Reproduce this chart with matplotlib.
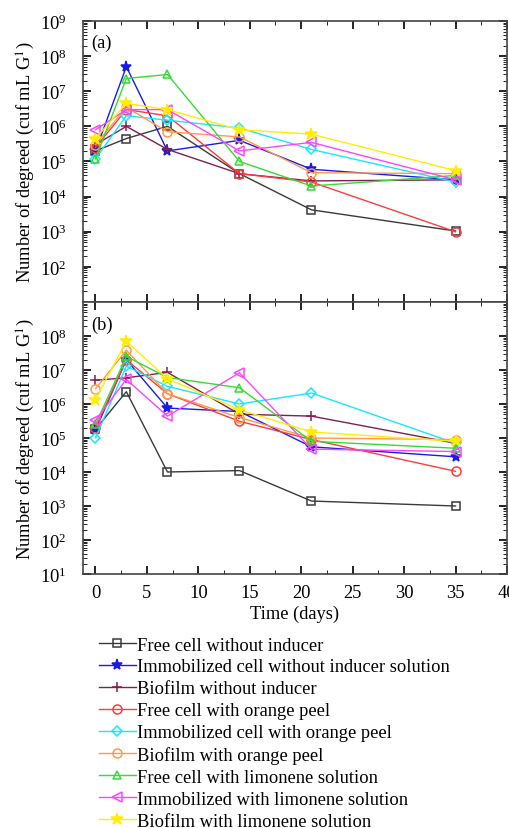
import numpy as np
import matplotlib
matplotlib.use('Agg')
import matplotlib.pyplot as plt
from matplotlib.ticker import LogLocator, MultipleLocator, NullFormatter

plt.rcParams['font.family'] = ['Liberation Serif', 'DejaVu Serif']
plt.rcParams['mathtext.fontset'] = 'stix'

FS = 13.3

# Zeitpunkte (Tage)
days = [0, 3, 7, 14, 21, 35]

labels = ['Free cell without inducer',
          'Immobilized cell without inducer solution',
          'Biofilm without inducer',
          'Free cell with orange peel',
          'Immobilized cell with orange peel',
          'Biofilm with orange peel',
          'Free cell with limonene solution',
          'Immobilized with limonene solution',
          'Biofilm with limonene solution']

# Panel (a)
a_free = [2.0e5, 4.5e5, 1.0e6, 4.5e4, 4.2e3, 1.05e3]
a_immob = [2.0e5, 5.0e7, 2.0e5, 4.0e5, 6.0e4, 3.0e4]
a_biofilm = [3.0e5, 1.0e6, 2.2e5, 4.5e4, 2.8e4, 3.0e4]
a_free_op = [2.5e5, 3.0e6, 2.0e6, 4.5e4, 2.6e4, 1.0e3]
a_immob_op = [1.2e5, 2.0e6, 1.5e6, 9.0e5, 2.2e5, 2.6e4]
a_bio_op = [3.0e5, 3.5e6, 7.0e5, 5.0e5, 4.8e4, 4.5e4]
a_free_lim = [1.2e5, 2.3e7, 3.0e7, 1.0e5, 2.0e4, 4.0e4]
a_immob_lim = [8.0e5, 3.0e6, 3.0e6, 2.0e5, 3.5e5, 3.0e4]
a_bio_lim = [4.5e5, 4.5e6, 3.0e6, 8.0e5, 6.0e5, 5.5e4]

# Panel (b)
b_free = [1.8e5, 2.3e6, 1.0e4, 1.1e4, 1.4e3, 1.0e3]
b_immob = [1.7e5, 2.0e7, 7.6e5, 6.0e5, 5.5e4, 2.8e4]
b_biofilm = [5.0e6, 5.9e6, 8.5e6, 5.0e5, 4.4e5, 7.0e4]
b_free_op = [2.0e5, 2.0e7, 2.0e6, 3.1e5, 9.0e4, 1.05e4]
b_immob_op = [1.0e5, 1.3e7, 3.3e6, 1.0e6, 2.1e6, 7.0e4]
b_bio_op = [2.8e6, 3.8e7, 2.0e6, 4.0e5, 1.0e5, 9.0e4]
b_free_lim = [2.5e5, 2.5e7, 6.0e6, 3.0e6, 8.0e4, 5.0e4]
b_immob_lim = [3.3e5, 5.3e6, 4.4e5, 8.3e6, 4.7e4, 4.0e4]
b_bio_lim = [1.35e6, 7.0e7, 5.5e6, 6.8e5, 1.5e5, 8.0e4]

data_a = [a_free, a_immob, a_biofilm, a_free_op, a_immob_op, a_bio_op, a_free_lim, a_immob_lim, a_bio_lim]
data_b = [b_free, b_immob, b_biofilm, b_free_op, b_immob_op, b_bio_op, b_free_lim, b_immob_lim, b_bio_lim]

colors = ['#3a3a3a', '#1a1ae6', '#802050', '#ff3b3b', '#19e6ff', '#ff9a4a', '#33dd33', '#ff44ff', '#ffee00']
markers = ['s', '*', '+', 'o', 'D', 'o', '^', '<', '*']
msizes = [5.5, 8, 7, 6.5, 5, 6.5, 6, 6.5, 9]
filled = [False, True, True, False, False, False, False, False, True]

fig = plt.figure(figsize=(5.1, 8.29), dpi=100)
ax1 = fig.add_axes([0.163, 0.6345, 0.831, 0.339])
ax2 = fig.add_axes([0.163, 0.3064, 0.831, 0.3281])

for ax, data, tag, ty in [(ax1, data_a, '(a)', 0.925), (ax2, data_b, '(b)', 0.919)]:
    for i, vals in enumerate(data):
        ax.plot(days, vals, color=colors[i], marker=markers[i], ms=msizes[i], lw=1.0,
                mfc=colors[i] if filled[i] else 'none', mec=colors[i], mew=1.1,
                label=labels[i])
    ax.set_yscale('log')
    ax.set_xlim(-1.2, 40)
    ax.xaxis.set_major_locator(MultipleLocator(5))
    ax.xaxis.set_minor_locator(MultipleLocator(2.5))
    ax.yaxis.set_minor_locator(LogLocator(base=10, subs=np.arange(2, 10), numticks=20))
    ax.yaxis.set_minor_formatter(NullFormatter())
    ax.tick_params(which='both', direction='in', top=True, right=True, labelsize=FS)
    ax.tick_params(axis='y', which='major', pad=12)
    ax.tick_params(axis='x', which='major', pad=7)
    ax.tick_params(which='major', length=6, width=1.2)
    ax.tick_params(which='minor', length=3)
    for s in ax.spines.values():
        s.set_linewidth(1.2)
        s.set_color('#444444')
    ax.text(0.02, ty, tag, transform=ax.transAxes, fontsize=FS, va='center')
    ax.set_ylabel('Number of degreed (cuf mL G$^{1}$)', fontsize=FS, labelpad=2)

# 10^1 nur im unteren Diagramm beschriften
ax1.set_yticks([10.0**k for k in range(2, 10)])
ax2.set_yticks([10.0**k for k in range(1, 9)])
ax1.set_ylim(1e1, 1e9)
ax2.set_ylim(1e1, 1e9)
ax1.tick_params(labelbottom=False)
ax2.set_xlabel('Time (days)', fontsize=FS, labelpad=3)

handles, labs = ax1.get_legend_handles_labels()
fig.legend(handles, labs, loc='upper left', bbox_to_anchor=(0.194, 0.231),
           frameon=False, fontsize=FS, handlelength=2.0, handletextpad=0.05,
           labelspacing=0.265, borderpad=0, borderaxespad=0)

fig.savefig('out.png', dpi=100)
